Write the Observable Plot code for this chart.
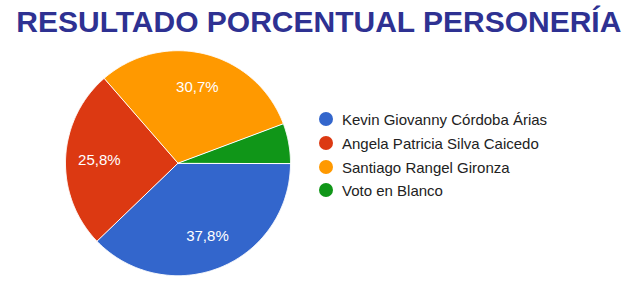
<!DOCTYPE html>
<html>
<head>
<meta charset="utf-8">
<script src="https://cdn.jsdelivr.net/npm/d3@7"></script>
<script src="https://cdn.jsdelivr.net/npm/@observablehq/plot@0.6"></script>
<style>
  html, body { margin: 0; padding: 0; background: #fff; }
  #wrap { position: relative; width: 628px; height: 283px; overflow: hidden; font-family: Arial, "Liberation Sans", sans-serif; }
  #title { position: absolute; left: 0; top: 7.4px; width: 628px; height: 34px; text-align: left; padding-left: 16.3px; box-sizing: border-box;
           font-size: 30px; line-height: 30px; font-weight: bold; color: #2E3192; white-space: nowrap; }
  #chart { position: absolute; left: 0; top: 40px; }
  #legend { position: absolute; left: 319px; top: 0; }
  .item { position: absolute; left: 0; white-space: nowrap; font-size: 15px; color: #222; line-height: 15px; }
  .sw { position: absolute; left: 0; top: 0; width: 14px; height: 14px; border-radius: 50%; }
  .lb { position: absolute; left: 23px; top: 0px; }
</style>
</head>
<body>
<div id="wrap">
  <div id="title">RESULTADO PORCENTUAL PERSONERÍA</div>
  <div id="chart"></div>
  <div id="legend"></div>
</div>
<script>
const names = ["Kevin Giovanny Córdoba Árias", "Angela Patricia Silva Caicedo", "Santiago Rangel Gironza", "Voto en Blanco"];
const values = [37.8, 25.8, 30.7, 5.7];
const labels = ["37,8%", "25,8%", "30,7%", ""];
const colors = ["#3366cc", "#dc3912", "#ff9900", "#109618"];

const W = 628, H = 243;
const cx = 177.5, cy = 122.7, R = 112.5;
const startDeg = 90;

const total = d3.sum(values);
// build slice polygons from the values
const polys = [];
const labelPts = [];
let a0 = startDeg;
values.forEach((v, i) => {
  const span = v / total * 360;
  const a1 = a0 + span;
  polys.push({name: names[i], x: 0, y: 0});
  const n = Math.max(2, Math.ceil(span / 0.5));
  for (let k = 0; k <= n; k++) {
    const a = (a0 + span * k / n) * Math.PI / 180;
    polys.push({name: names[i], x: Math.sin(a), y: Math.cos(a)});
  }
  const am = (a0 + span / 2) * Math.PI / 180;
  if (labels[i]) labelPts.push({name: names[i], label: labels[i], x: 0.7 * Math.sin(am), y: 0.7 * Math.cos(am)});
  a0 = a1;
});

const plot = Plot.plot({
  width: W, height: H,
  margin: 0,
  x: {domain: [-cx / R, (W - cx) / R], axis: null},
  y: {domain: [-(H - cy) / R, cy / R], axis: null},
  color: {domain: names, range: colors},
  style: {background: "transparent", fontFamily: "Arial, 'Liberation Sans', sans-serif"},
  marks: [
    Plot.line(polys, {x: "x", y: "y", z: "name", fill: "name", stroke: "#fff", strokeWidth: 1, curve: "linear-closed"}),
    Plot.text(labelPts, {x: "x", y: "y", text: "label", fill: "#fff", fontSize: 15})
  ]
});
document.getElementById("chart").appendChild(plot);

const legend = document.getElementById("legend");
names.forEach((n, i) => {
  const it = document.createElement("div");
  it.className = "item";
  it.style.top = (112.3 + i * 23.6) + "px";
  it.innerHTML = `<span class="sw" style="background:${colors[i]}"></span><span class="lb">${n}</span>`;
  legend.appendChild(it);
});
</script>
</body>
</html>
